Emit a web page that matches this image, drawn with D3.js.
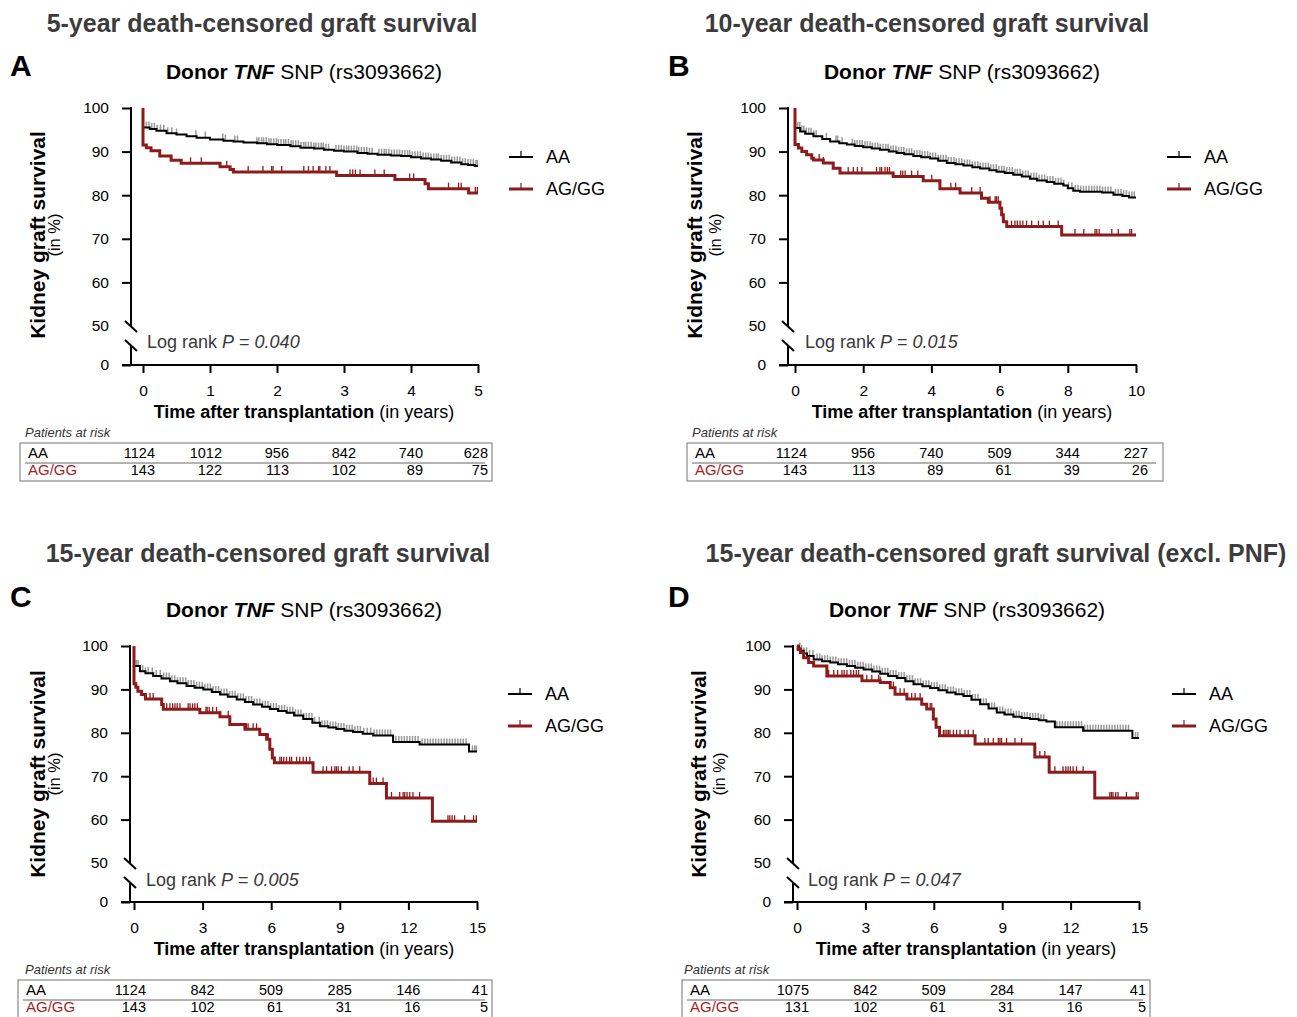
<!DOCTYPE html>
<html><head><meta charset="utf-8">
<script src="https://cdn.jsdelivr.net/npm/d3@7"></script>
<style>
body{margin:0;background:#fff}
svg{display:block}
text{font-family:"Liberation Sans",Arial,Helvetica,sans-serif}
</style>
</head><body>
<svg id="c" width="1297" height="1017"></svg>
<script>
// ---------------- DATA ----------------
const panelLetters = ["A", "B", "C", "D"];
const panelTitles = [
  "5-year death-censored graft survival",
  "10-year death-censored graft survival",
  "15-year death-censored graft survival",
  "15-year death-censored graft survival (excl. PNF)"
];
const groups = ["AA", "AG/GG"];
const maxYears = [5, 10, 15, 15];
const xTicksA = [0, 1, 2, 3, 4, 5];
const xTicksB = [0, 2, 4, 6, 8, 10];
const xTicksC = [0, 3, 6, 9, 12, 15];
const xTicksD = [0, 3, 6, 9, 12, 15];
const yTicks = [0, 50, 60, 70, 80, 90, 100];
const pValues = ["0.040", "0.015", "0.005", "0.047"];

const riskAA_A = [1124, 1012, 956, 842, 740, 628];
const riskAG_A = [143, 122, 113, 102, 89, 75];
const riskAA_B = [1124, 956, 740, 509, 344, 227];
const riskAG_B = [143, 113, 89, 61, 39, 26];
const riskAA_C = [1124, 842, 509, 285, 146, 41];
const riskAG_C = [143, 102, 61, 31, 16, 5];
const riskAA_D = [1075, 842, 509, 284, 147, 41];
const riskAG_D = [131, 102, 61, 31, 16, 5];

// Kaplan-Meier curves: [years, survival %]
const survAA_A = [[0,100],[0,95.5],[0.1,95.2],[0.2,94.8],[0.35,94.2],[0.5,93.9],[0.65,93.5],[0.8,93.2],[1.0,92.8],[1.2,92.5],[1.35,92.3],[1.5,92.1],[1.7,91.9],[1.85,91.7],[2.0,91.5],[2.2,91.2],[2.35,90.9],[2.55,90.7],[2.7,90.4],[2.85,90.2],[3.0,90.0],[3.2,89.7],[3.35,89.5],[3.5,89.3],[3.7,89.1],[3.85,89.0],[4.0,88.7],[4.15,88.4],[4.3,88.2],[4.45,87.9],[4.6,87.5],[4.75,87.1],[4.85,86.9],[4.95,86.7]];
const survAG_A = [[0,100],[0,91.5],[0.05,90.9],[0.12,90.2],[0.25,89.0],[0.42,88.0],[0.57,87.3],[1.15,86.5],[1.30,85.9],[1.35,85.3],[2.89,84.5],[3.76,83.6],[4.21,82.6],[4.26,81.5],[4.86,80.5]];
const survAA_B = [[0,100],[0,95.4],[0.15,94.6],[0.3,94.1],[0.54,93.5],[0.8,92.9],[1.03,92.3],[1.3,91.9],[1.52,91.6],[1.75,91.3],[2.0,91.0],[2.25,90.7],[2.49,90.4],[2.75,90.0],[2.98,89.7],[3.2,89.4],[3.47,89.0],[3.7,88.7],[3.96,88.4],[4.2,87.9],[4.45,87.4],[4.7,87.1],[4.94,86.8],[5.2,86.4],[5.43,86.1],[5.7,85.7],[5.91,85.4],[6.15,85.1],[6.4,84.7],[6.65,84.3],[6.89,83.8],[7.1,83.4],[7.38,83.0],[7.6,82.6],[7.87,82.2],[8.0,81.6],[8.16,81.0],[8.36,80.8],[9.0,80.6],[9.34,80.1],[9.6,79.8],[9.8,79.5]];
const survAG_B = [[0,100],[0,91.6],[0.1,90.8],[0.2,90.0],[0.34,89.3],[0.49,88.5],[0.54,88.1],[0.83,87.4],[1.12,86.2],[1.32,85.1],[2.88,84.3],[3.76,83.3],[4.25,81.5],[4.84,80.5],[5.47,79.3],[5.67,78.4],[6.01,77.0],[6.06,75.5],[6.11,73.9],[6.21,72.8],[7.82,70.9]];
const survAA_C = [[0,100],[0,95.4],[0.26,94.2],[0.5,93.7],[0.84,93.1],[1.2,92.5],[1.57,91.9],[1.9,91.4],[2.3,90.8],[2.65,90.4],[3.03,90.0],[3.4,89.4],[3.76,88.8],[4.1,88.3],[4.49,87.7],[4.85,87.1],[5.21,86.5],[5.6,86.0],[5.94,85.5],[6.3,85.0],[6.67,84.6],[7.0,84.0],[7.4,83.2],[7.8,82.3],[8.13,81.5],[8.5,81.2],[8.85,80.9],[9.2,80.5],[9.58,80.2],[10.0,79.8],[10.46,79.4],[11.33,77.9],[12.49,77.3],[14.65,75.7]];
const survAG_C = [[0,100],[0,91.3],[0.08,90.5],[0.17,89.6],[0.33,88.8],[0.5,87.8],[1.21,86.5],[1.28,85.4],[2.88,84.6],[3.76,83.7],[4.19,81.9],[4.85,80.8],[5.50,79.6],[5.80,78.5],[5.94,76.2],[6.05,74.2],[6.14,73.1],[7.83,70.9],[10.31,68.3],[11.04,65.0],[13.05,59.6]];
const survAA_D = [[0,100],[0.08,99.4],[0.15,98.9],[0.3,98.3],[0.44,97.7],[0.73,96.9],[1.1,96.5],[1.46,96.2],[1.8,95.8],[2.19,95.4],[2.55,95.0],[2.92,94.6],[3.3,94.1],[3.65,93.6],[4.0,93.1],[4.38,92.6],[4.75,91.9],[5.11,91.2],[5.5,90.7],[5.84,90.3],[6.2,89.8],[6.57,89.3],[6.95,88.9],[7.3,88.5],[7.65,87.6],[8.03,86.6],[8.4,85.6],[8.76,84.7],[9.1,84.2],[9.49,83.7],[9.85,83.4],[10.21,83.2],[10.6,82.9],[10.94,82.6],[11.31,81.3],[12.55,80.5],[14.71,78.8]];
const survAG_D = [[0,100],[0.05,99.2],[0.15,98.5],[0.29,97.3],[0.51,96.2],[0.73,95.4],[1.31,93.1],[2.85,92.0],[3.65,91.6],[4.09,90.4],[4.30,88.9],[4.82,87.8],[5.47,86.6],[5.69,85.5],[5.98,83.2],[6.1,81.3],[6.25,79.3],[7.81,77.4],[10.43,74.4],[11.06,70.9],[13.06,65.0]];

// censored observations (years)
const censorAA_A = [0.05,0.09,0.13,0.17,0.21,0.26,0.31,0.37,0.43,0.5,0.79,0.93,1.19,1.23,1.37,1.41,1.70,1.73,1.77,1.80,1.84,1.88,1.91,1.95,1.99,2.02,2.06,2.10,2.13,2.17,2.21,2.24,2.28,2.32,2.36,2.40,2.43,2.47,2.51,2.55,2.58,2.62,2.66,2.69,2.73,2.77,2.88,2.92,2.96,3.00,3.04,3.07,3.11,3.15,3.19,3.22,3.26,3.30,3.34,3.38,3.42,3.52,3.56,3.60,3.63,3.67,3.71,3.75,3.79,3.83,3.87,3.91,3.95,3.98,4.02,4.06,4.10,4.14,4.18,4.22,4.26,4.30,4.34,4.38,4.41,4.45,4.49,4.53,4.57,4.61,4.65,4.69,4.73,4.77,4.81,4.85,4.89,4.93,4.97,4.99];
const censorAG_A = [0.71,0.87,1.25,1.57,1.79,1.92,1.94,2.07,2.40,2.47,2.54,2.62,2.64,2.73,2.79,3.09,3.13,3.17,3.24,3.46,3.60,3.98,4.04,4.56,4.71,4.75,4.96,4.99];
const censorAA_B = [0.08,0.14,0.2,0.26,0.33,0.4,0.47,0.55,0.62,0.92,1.2,1.25,1.38,1.68,1.75,1.82,1.90,1.97,2.05,2.12,2.20,2.27,2.35,2.43,2.50,2.58,2.66,2.73,2.81,2.88,2.96,3.04,3.12,3.19,3.27,3.35,3.42,3.50,3.58,3.66,3.73,3.81,3.89,3.96,4.04,4.12,4.20,4.27,4.35,4.43,4.50,4.58,4.66,4.73,4.81,4.89,4.97,5.05,5.12,5.20,5.28,5.36,5.43,5.51,5.59,5.67,5.74,5.82,5.90,5.98,6.06,6.13,6.21,6.29,6.37,6.45,6.52,6.60,6.68,6.76,6.84,6.92,7.00,7.08,7.16,7.24,7.32,7.40,7.48,7.56,7.64,7.72,7.80,7.88,8.02,8.12,8.22,8.30,8.38,8.46,8.54,8.62,8.70,8.78,8.86,8.94,9.02,9.10,9.18,9.26,9.40,9.48,9.56,9.64,9.72,9.80,9.88,9.95];
const censorAG_B = [0.71,0.83,1.56,1.71,1.83,1.96,2.39,2.49,2.54,2.64,2.71,2.77,3.10,3.16,3.23,3.42,3.60,4.01,4.57,4.71,5.18,5.43,5.72,5.87,5.91,5.96,6.35,6.45,6.52,6.60,6.68,6.79,6.94,7.14,7.28,7.46,7.72,8.21,8.47,8.80,8.85,8.92,9.29,9.48,9.82,9.87];
const censorAA_C = [0.1,0.18,0.27,0.38,0.5,0.62,0.8,0.97,1.15,1.30,1.42,1.54,1.66,1.78,1.90,2.02,2.14,2.26,2.38,2.50,2.62,2.74,2.86,2.98,3.10,3.22,3.34,3.46,3.58,3.70,3.82,3.94,4.06,4.18,4.30,4.42,4.54,4.66,4.78,4.90,5.02,5.14,5.26,5.38,5.50,5.62,5.74,5.86,5.98,6.10,6.22,6.34,6.46,6.58,6.70,6.82,6.94,7.06,7.18,7.30,7.42,7.54,7.66,7.78,7.90,8.10,8.22,8.34,8.46,8.58,8.70,8.82,8.94,9.06,9.18,9.30,9.42,9.54,9.66,9.78,9.90,10.05,10.20,10.35,10.50,10.62,10.74,10.86,10.98,11.10,11.22,11.45,11.58,11.70,11.82,11.94,12.06,12.18,12.30,12.42,12.60,12.72,12.84,12.96,13.08,13.20,13.32,13.44,13.56,13.68,13.80,13.92,14.04,14.16,14.28,14.40,14.52,14.80,14.90,14.97];
const censorAG_C = [0.70,0.84,1.43,1.57,1.69,1.79,1.89,2.01,2.37,2.45,2.56,2.66,2.77,3.15,3.20,3.29,3.44,3.61,3.76,4.12,4.92,4.99,5.21,5.36,5.50,5.80,5.87,6.38,6.45,6.55,6.67,6.81,6.89,7.11,7.25,7.40,7.54,7.69,8.27,8.42,8.64,8.78,8.85,8.93,9.07,9.41,9.58,9.87,10.46,10.60,10.89,11.26,11.62,11.77,11.84,11.94,12.06,12.20,12.49,13.73,13.81,13.91,14.02,14.46,14.85,14.97];
const censorAA_D = [0.12,0.2,0.3,0.42,0.55,0.7,0.88,1.00,1.10,1.22,1.34,1.46,1.58,1.70,1.82,1.94,2.06,2.18,2.30,2.42,2.54,2.66,2.78,2.90,3.02,3.14,3.26,3.38,3.50,3.62,3.74,3.86,3.98,4.10,4.22,4.34,4.46,4.58,4.70,4.82,4.94,5.06,5.18,5.30,5.42,5.54,5.66,5.78,5.90,6.02,6.14,6.26,6.38,6.50,6.62,6.74,6.86,6.98,7.10,7.22,7.34,7.46,7.58,7.70,7.82,7.94,8.06,8.18,8.30,8.42,8.54,8.66,8.78,8.90,9.02,9.14,9.26,9.38,9.50,9.62,9.74,9.86,9.98,10.10,10.22,10.34,10.46,10.58,10.70,10.82,11.40,11.52,11.64,11.76,11.88,12.00,12.12,12.24,12.36,12.48,12.62,12.74,12.86,12.98,13.10,13.22,13.34,13.46,13.58,13.70,13.82,13.94,14.06,14.18,14.30,14.42,14.54,14.85,14.95];
const censorAG_D = [1.39,1.61,1.78,1.97,2.07,2.19,2.36,2.48,2.60,2.70,3.06,3.28,3.58,3.65,4.23,4.52,4.70,5.03,5.18,5.40,5.69,5.84,5.91,6.42,6.49,6.57,6.64,6.71,6.86,7.00,7.15,7.37,7.51,7.73,8.24,8.39,8.61,8.83,8.90,8.97,9.19,9.56,9.85,10.65,10.87,11.31,11.67,11.79,11.89,11.99,12.11,12.26,12.55,13.72,13.79,13.86,13.98,14.08,14.45,14.88,14.96];

// ---------------- LAYOUT ----------------
const RED = "#8d1b1b", RED_TXT = "#a11f1f", TITLE_GRAY = "#3c3c3c", CENSOR_GRAY = "#999999";
const layouts = [
  {axisX:131, x0:143, x1:478, yTop:108, y50:326, y0:365, letterX:10, letterY:76, titleCX:262, titleY:32, subCX:304, subY:79,
   yT1X:45, yT2X:60, yTCY:235, xTitleCX:304, xTitleY:418, logX:147, logY:348, legX:509, legY1:157, legY2:189,
   tabL:20, tabR:492, tabTop:443, tabBot:481, tabLabelX:25, tabLabelY:437, row1Y:458, row2Y:475, sepY:463},
  {axisX:788, x0:795, x1:1136, yTop:108, y50:326, y0:365, letterX:668, letterY:76, titleCX:927, titleY:32, subCX:962, subY:79,
   yT1X:702, yT2X:721, yTCY:235, xTitleCX:962, xTitleY:418, logX:805, logY:348, legX:1167, legY1:157, legY2:189,
   tabL:687, tabR:1163, tabTop:443, tabBot:481, tabLabelX:692, tabLabelY:437, row1Y:458, row2Y:475, sepY:463},
  {axisX:130, x0:134, x1:477, yTop:646, y50:863, y0:902, letterX:10, letterY:607, titleCX:268, titleY:562, subCX:304, subY:617,
   yT1X:45, yT2X:60, yTCY:774, xTitleCX:304, xTitleY:955, logX:146, logY:886, legX:508, legY1:694, legY2:726,
   tabL:18, tabR:492, tabTop:980, tabBot:1020, tabLabelX:25, tabLabelY:974, row1Y:995, row2Y:1012, sepY:1000},
  {axisX:793, x0:797, x1:1139, yTop:646, y50:863, y0:902, letterX:668, letterY:607, titleCX:996, titleY:562, subCX:967, subY:617,
   yT1X:706, yT2X:725, yTCY:774, xTitleCX:966, xTitleY:955, logX:808, logY:886, legX:1172, legY1:694, legY2:726,
   tabL:682, tabR:1150, tabTop:980, tabBot:1020, tabLabelX:684, tabLabelY:974, row1Y:995, row2Y:1012, sepY:1000}
];

const panels = [
  {xTicks:xTicksA, aa:survAA_A, ag:survAG_A, cAA:censorAA_A, cAG:censorAG_A, rAA:riskAA_A, rAG:riskAG_A},
  {xTicks:xTicksB, aa:survAA_B, ag:survAG_B, cAA:censorAA_B, cAG:censorAG_B, rAA:riskAA_B, rAG:riskAG_B},
  {xTicks:xTicksC, aa:survAA_C, ag:survAG_C, cAA:censorAA_C, cAG:censorAG_C, rAA:riskAA_C, rAG:riskAG_C},
  {xTicks:xTicksD, aa:survAA_D, ag:survAG_D, cAA:censorAA_D, cAG:censorAG_D, rAA:riskAA_D, rAG:riskAG_D}
];

const svg = d3.select("#c");
const bis = d3.bisector(d => d[0]).right;
function survAt(curve, t) { const i = bis(curve, t) - 1; return curve[Math.max(0, i)][1]; }

panels.forEach((p, k) => {
  const L = layouts[k];
  const g = svg.append("g");
  const tMax = maxYears[k];
  const x = d3.scaleLinear().domain([0, tMax]).range([L.x0, L.x1]);
  const y = d3.scaleLinear().domain([0, 50, 100]).range([L.y0, L.y50, L.yTop]);

  // title, letter, subtitle
  g.append("text").attr("x", L.titleCX).attr("y", L.titleY).attr("text-anchor", "middle")
    .attr("font-size", 25).attr("font-weight", "bold").attr("fill", TITLE_GRAY).text(panelTitles[k]);
  g.append("text").attr("x", L.letterX).attr("y", L.letterY).attr("font-size", 30).attr("font-weight", "bold")
    .attr("fill", "#000").text(panelLetters[k]);
  const sub = g.append("text").attr("x", L.subCX).attr("y", L.subY).attr("text-anchor", "middle")
    .attr("font-size", 21).attr("fill", "#000");
  sub.append("tspan").attr("font-weight", "bold").text("Donor ");
  sub.append("tspan").attr("font-weight", "bold").attr("font-style", "italic").text("TNF");
  sub.append("tspan").text(" SNP (rs3093662)");

  // y axis
  const yAxis = d3.axisLeft(y).tickValues(yTicks).tickSize(9).tickPadding(13).tickFormat(d3.format("d"));
  const ya = g.append("g").attr("transform", `translate(${L.axisX},0)`).call(yAxis);
  ya.select(".domain").remove();
  ya.selectAll(".tick line").attr("stroke", "#000").attr("stroke-width", 2)
    .filter(d => d === 50).remove();
  ya.selectAll(".tick text").attr("font-size", 15.5).attr("fill", "#000")
    .attr("font-family", '"Liberation Sans",Arial,sans-serif');
  // broken axis line
  g.append("line").attr("x1", L.axisX).attr("x2", L.axisX).attr("y1", y(100) - 1).attr("y2", y(50))
    .attr("stroke", "#000").attr("stroke-width", 2);
  g.append("line").attr("x1", L.axisX).attr("x2", L.axisX).attr("y1", y(50) + 19).attr("y2", y(0))
    .attr("stroke", "#000").attr("stroke-width", 2);
  [[-5, 6], [14, 25]].forEach(([a, b]) => {
    g.append("line").attr("x1", L.axisX - 6).attr("y1", y(50) + a).attr("x2", L.axisX + 6).attr("y2", y(50) + b)
      .attr("stroke", "#000").attr("stroke-width", 2);
  });

  // x axis
  const xAxis = d3.axisBottom(x).tickValues(p.xTicks).tickSize(8).tickPadding(12).tickFormat(d3.format("d"));
  const xa = g.append("g").attr("transform", `translate(0,${L.y0})`).call(xAxis);
  xa.select(".domain").remove();
  xa.selectAll(".tick line").attr("stroke", "#000").attr("stroke-width", 2);
  xa.selectAll(".tick text").attr("font-size", 15.5).attr("fill", "#000")
    .attr("font-family", '"Liberation Sans",Arial,sans-serif');
  g.append("line").attr("x1", L.axisX - 9).attr("x2", x(tMax) + 1).attr("y1", L.y0).attr("y2", L.y0)
    .attr("stroke", "#000").attr("stroke-width", 2);

  // axis titles
  const xt = g.append("text").attr("x", L.xTitleCX).attr("y", L.xTitleY).attr("text-anchor", "middle")
    .attr("font-size", 18).attr("fill", "#000");
  xt.append("tspan").attr("font-weight", "bold").text("Time after transplantation");
  xt.append("tspan").text(" (in years)");
  g.append("text").attr("transform", `translate(${L.yT1X},${L.yTCY}) rotate(-90)`).attr("text-anchor", "middle")
    .attr("font-size", 21).attr("font-weight", "bold").attr("fill", "#000").text("Kidney graft survival");
  g.append("text").attr("transform", `translate(${L.yT2X},${L.yTCY}) rotate(-90)`).attr("text-anchor", "middle")
    .attr("font-size", 16.5).attr("fill", "#000").text("(in %)");

  // log rank
  const lr = g.append("text").attr("x", L.logX).attr("y", L.logY).attr("font-size", 18).attr("fill", "#3a3a3a");
  lr.append("tspan").text("Log rank ");
  lr.append("tspan").attr("font-style", "italic").text("P");
  lr.append("tspan").text(" = ");
  lr.append("tspan").attr("font-style", "italic").text(pValues[k]);

  // curves
  const line = d3.line().x(d => x(d[0])).y(d => y(d[1])).curve(d3.curveStepAfter);
  function drawCurve(curve, censors, color, tickColor, width, tw) {
    const pts = curve.concat([[tMax, curve[curve.length - 1][1]]]);
    g.append("g").selectAll("line").data(censors).join("line")
      .attr("x1", d => x(d)).attr("x2", d => x(d))
      .attr("y1", d => y(survAt(curve, d)) - 6).attr("y2", d => y(survAt(curve, d)))
      .attr("stroke", tickColor).attr("stroke-width", tw);
    g.append("path").attr("d", line(pts)).attr("fill", "none").attr("stroke", color)
      .attr("stroke-width", width).attr("stroke-linejoin", "miter");
  }
  drawCurve(p.aa, p.cAA, "#000", CENSOR_GRAY, 2, 1.5);
  drawCurve(p.ag, p.cAG, RED, RED, 3, 1.3);

  // legend
  [[groups[0], L.legY1, "#000", 2], [groups[1], L.legY2, RED, 3]].forEach(([name, ly, col, w]) => {
    g.append("line").attr("x1", L.legX).attr("x2", L.legX + 24).attr("y1", ly).attr("y2", ly)
      .attr("stroke", col).attr("stroke-width", w);
    g.append("line").attr("x1", L.legX + 12).attr("x2", L.legX + 12).attr("y1", ly - 6).attr("y2", ly)
      .attr("stroke", col).attr("stroke-width", 1.2);
    g.append("text").attr("x", L.legX + 37).attr("y", ly + 6).attr("font-size", 18).attr("fill", "#000").text(name);
  });

  // risk table
  g.append("text").attr("x", L.tabLabelX).attr("y", L.tabLabelY).attr("font-size", 13).attr("font-style", "italic")
    .attr("fill", "#333").text("Patients at risk");
  g.append("rect").attr("x", L.tabL).attr("y", L.tabTop).attr("width", L.tabR - L.tabL).attr("height", L.tabBot - L.tabTop)
    .attr("fill", "none").attr("stroke", "#8a8a8a").attr("stroke-width", 1.2);
  g.append("line").attr("x1", L.tabL + 5).attr("x2", L.tabR - 7).attr("y1", L.sepY).attr("y2", L.sepY)
    .attr("stroke", "#666").attr("stroke-width", 1);
  g.append("text").attr("x", L.tabL + 8).attr("y", L.row1Y).attr("font-size", 15).attr("fill", "#000").text(groups[0]);
  g.append("text").attr("x", L.tabL + 8).attr("y", L.row2Y).attr("font-size", 15).attr("fill", RED_TXT).text(groups[1]);
  const colX = t => Math.min(x(t) + 12, L.tabR - 4);
  g.append("g").selectAll("text").data(p.rAA).join("text")
    .attr("x", (d, i) => colX(p.xTicks[i])).attr("y", L.row1Y).attr("text-anchor", "end")
    .attr("font-size", 14.5).attr("fill", "#000").text(d => d);
  g.append("g").selectAll("text").data(p.rAG).join("text")
    .attr("x", (d, i) => colX(p.xTicks[i])).attr("y", L.row2Y).attr("text-anchor", "end")
    .attr("font-size", 14.5).attr("fill", "#000").text(d => d);
});
</script>
</body></html>
